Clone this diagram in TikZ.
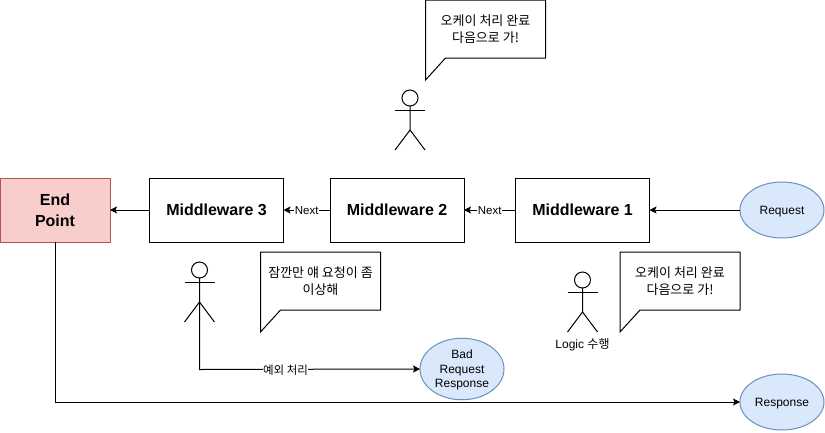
\documentclass[tikz,border=0pt]{standalone}
\usepackage{fontspec}
\setmainfont{Liberation Sans}
\newfontfamily\kofont{Noto Sans CJK KR}
\newcommand{\ko}[1]{{\kofont #1}}
\newcommand{\lw}[1]{\raisebox{-1.2pt}[\height][\depth]{\begin{tabular}{@{}c@{}}#1\end{tabular}}}
\usetikzlibrary{arrows.meta,shapes.geometric}
\definecolor{epfill}{HTML}{F8CECC}
\definecolor{epline}{HTML}{B85450}
\definecolor{elfill}{HTML}{DAE8FC}
\definecolor{elline}{HTML}{6C8EBF}
\tikzset{
  mwbox/.style={draw=black,line width=1pt,fill=white,minimum width=134pt,minimum height=64pt,inner sep=0pt,outer sep=0pt,align=center,font=\fontsize{16}{21}\selectfont\bfseries},
  epbox/.style={mwbox,draw=epline,fill=epfill,minimum width=110pt},
  term/.style={ellipse,draw=elline,fill=elfill,line width=1pt,minimum width=84pt,minimum height=56pt,inner sep=0pt,outer sep=0pt,align=center,font=\fontsize{12}{14.5}\selectfont},
  conn/.style={draw=black,line width=1pt,-{Stealth[length=7pt,width=7pt,inset=1.5pt]}},
  elabel/.style={fill=white,inner sep=0.5pt,yshift=-1pt,font=\fontsize{11.5}{14}\selectfont},
  calloutline/.style={draw=black,line width=1pt,fill=white,line join=miter},
  callouttext/.style={align=center,inner sep=0pt,font=\fontsize{13}{17}\selectfont},
  actorline/.style={draw=black,line width=1pt},
  plain/.style={inner sep=0pt,font=\fontsize{12}{14}\selectfont}
}
\newcommand{\actorfig}[3]{% x, head centre y, name
  \node[circle,draw=black,line width=1pt,minimum size=16pt,inner sep=0pt,outer sep=0pt] (#3head) at (#1,#2) {};
  \coordinate (#3l) at (#1-15,#2+52);
  \coordinate (#3r) at (#1+15,#2+52);
  \coordinate (#3h) at (#1,#2+32);
  \draw[actorline] (#3head.south) -- (#3h) (#3l) -- (#3h) -- (#3r);
  \draw[actorline] (#1-15,#2+12) -- (#1+15,#2+12);
}
\newcommand{\calloutfig}[3]{% left x, top y, text
  \draw[calloutline] (#1,#2) -- ++(120,0) -- ++(0,58) -- ++(-100,0) -- ++(-20,22) -- cycle;
  \node[callouttext] at (#1+60,#2+29.5) {#3};
}
\begin{document}
\begin{tikzpicture}[x=1pt,y=-1pt]
\useasboundingbox (0,0) rectangle (825,432);
\node[epbox] (ep) at (55,210) {End\\Point};
\node[mwbox] (m3) at (216.5,210) {\lw{Middleware 3}};
\node[mwbox] (m2) at (397,210) {\lw{Middleware 2}};
\node[mwbox] (m1) at (582.5,210) {\lw{Middleware 1}};
\node[term] (req) at (782,210) {\lw{Request}};
\node[term] (resp) at (782,402) {\lw{Response}};
\node[term] (bad) at (462,369) {\lw{Bad\\Request\\Response}};
\draw[conn] (req) -- (m1);
\draw[conn] (m1) -- node[elabel] (n1) {Next} (m2);
\draw[conn] (m2) -- node[elabel] (n2) {Next} (m3);
\draw[conn] (m3) -- (ep);
\draw[conn] (ep.south) |- (resp.west);
\actorfig{410}{98}{a}
\actorfig{199.5}{270}{b}
\actorfig{582.5}{280}{c}
\node[plain] (lg) at (582.5,345) {Logic \ko{수행}};
\draw[conn] (bh) -- (199.5,369.5) -- node[elabel,pos=0.39] (n3) {\ko{예외 처리}} (bad.west);
\calloutfig{425.5}{0}{\ko{오케이 처리 완료}\\\ko{다음으로 가!}}
\calloutfig{260.5}{252}{\ko{잠깐만 얘 요청이 좀}\\\ko{이상해}}
\calloutfig{620}{252}{\ko{오케이 처리 완료}\\\ko{다음으로 가!}}
\end{tikzpicture}
\end{document}
